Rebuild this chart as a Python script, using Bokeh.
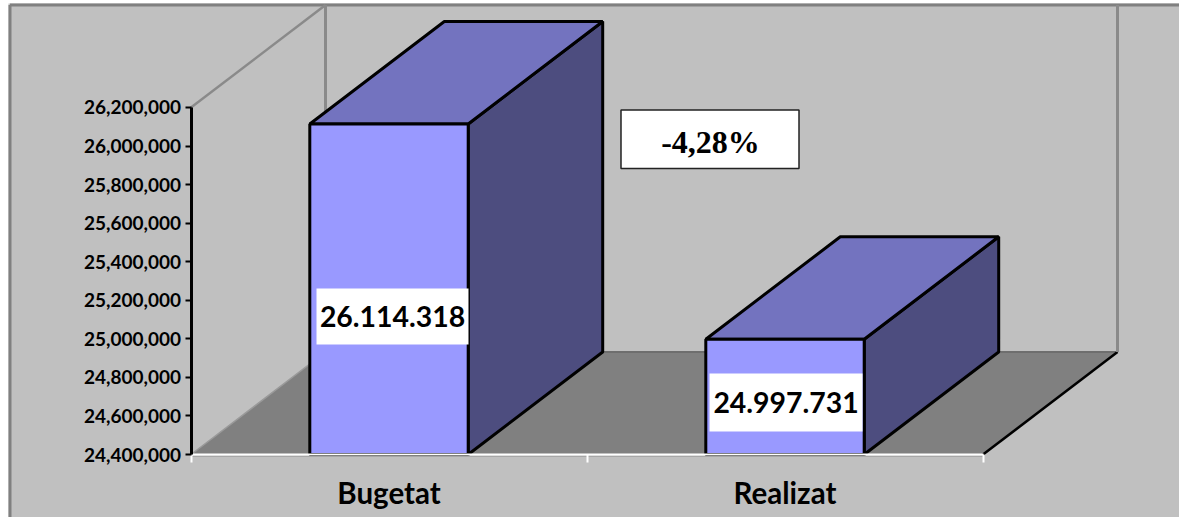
from bokeh.plotting import figure
from bokeh.embed import file_html
from bokeh.resources import INLINE
from bokeh.models import LinearAxis, FixedTicker, NumeralTickFormatter, Range1d
from bokeh.core.properties import value

categories = ["Bugetat", "Realizat"]
values = [26114318, 24997731]
value_labels = ["26.114.318", "24.997.731"]
y_ticks = [24400000, 24600000, 24800000, 25000000, 25200000, 25400000,
           25600000, 25800000, 26000000, 26200000]
change_label = "-4,28%"

W, H = 1179, 517
Y_BASE = 24400000
PX_X = 396.0          # px per category
PX_Y = 192.78 / 1e6   # px per unit value
X0_PX, Y0_PX = 190.5, 454.0


def X(px):
    return (px - X0_PX) / PX_X


def Y(py):
    return Y_BASE + (Y0_PX - py) / PX_Y


DX = 134.5 / PX_X     # 3D depth in x units
DY = 102.5 / PX_Y     # 3D depth in y units
BAR_W = 0.4
FONT = value("Lato")

p = figure(width=W, height=H, output_backend="svg", toolbar_location=None,
           x_axis_type=None, y_axis_type=None, min_border=0,
           x_range=Range1d(X(0), X(W)), y_range=Range1d(Y(H), Y(0)),
           background_fill_color="white", border_fill_color="white",
           outline_line_color=None)
p.grid.visible = False

GREY = "#C0C0C0"
WALL = "#8A8A8A"

# chart area and its border
p.quad(left=[X(8)], right=[X(W + 5)], top=[Y(3)], bottom=[Y(H + 5)],
       fill_color=GREY, line_color=None)
p.line([X(9.5), X(9.5)], [Y(H + 5), Y(4.5)], line_color="#808080", line_width=3)
p.line([X(9.5), X(W + 5)], [Y(4.5), Y(4.5)], line_color="#808080", line_width=3)

# floor
y_top = max(y_ticks)
fx = [0, DX, 2 + DX, 2]
fy = [Y_BASE, Y_BASE + DY, Y_BASE + DY, Y_BASE]
p.patch(fx, fy, fill_color="#808080", line_color=None)
p.line([DX, 2 + DX], [Y_BASE + DY, Y_BASE + DY], line_color="#6E6E6E", line_width=2)
p.line([0, DX], [Y_BASE, Y_BASE + DY], line_color="#9A9A9A", line_width=1.5)
p.line([2, 2 + DX], [Y_BASE, Y_BASE + DY], line_color="black", line_width=2.5)

# walls
p.line([0, DX], [y_top, y_top + DY], line_color=WALL, line_width=2.5)
p.line([DX, DX], [Y_BASE + DY, y_top + DY], line_color=WALL, line_width=3)
p.line([2 + DX, 2 + DX], [Y_BASE + DY, y_top + DY], line_color=WALL, line_width=3)

# bars
for i, v in enumerate(values):
    l = i + 0.5 - BAR_W / 2
    r = i + 0.5 + BAR_W / 2
    lw = 3
    p.patch([r, r + DX, r + DX, r], [Y_BASE, Y_BASE + DY, v + DY, v],
            fill_color="#4D4D7F", line_color="black", line_width=lw)
    p.patch([l, r, r + DX, l + DX], [v, v, v + DY, v + DY],
            fill_color="#7373BF", line_color="black", line_width=lw)
    p.patch([l, r, r, l], [Y_BASE, Y_BASE, v, v],
            fill_color="#9999FF", line_color="black", line_width=lw)

# data labels
label_boxes_px = [(316, 468, 288, 344), (709, 862, 373, 431)]
for (x0, x1, y0, y1), txt in zip(label_boxes_px, value_labels):
    p.quad(left=[X(x0)], right=[X(x1)], top=[Y(y0)], bottom=[Y(y1)],
           fill_color="white", line_color=None)
    p.text([X((x0 + x1) / 2)], [Y((y0 + y1) / 2)], text=[txt], text_font=FONT,
           text_font_style="bold", text_font_size="28.4px", text_color="black",
           text_align="center", text_baseline="middle")

# percentage box
p.quad(left=[X(620.5)], right=[X(798.5)], top=[Y(109.5)], bottom=[Y(168)],
       fill_color="white", line_color="#222222", line_width=1.5)
p.text([X(710)], [Y(141)], text=[change_label], text_font=value("Liberation Serif"),
       text_font_style="bold", text_font_size="32px", text_color="black",
       text_align="center", text_baseline="middle")

# faint shade under the baseline
p.line([0, 2], [Y(456), Y(456)], line_color="#A6A6A6", line_width=1)

# axes
yax = LinearAxis(fixed_location=0,
                 ticker=FixedTicker(ticks=y_ticks),
                 formatter=NumeralTickFormatter(format="0,0"),
                 bounds=(min(y_ticks), max(y_ticks)),
                 axis_line_color="black", axis_line_width=3,
                 major_tick_line_color="black", major_tick_line_width=2,
                 major_tick_in=0, major_tick_out=6,
                 minor_tick_line_color=None,
                 major_label_standoff=4,
                 major_label_text_font="Lato", major_label_text_font_style="bold",
                 major_label_text_font_size="19px", major_label_text_color="black")
p.add_layout(yax, "left")

xax = LinearAxis(fixed_location=Y_BASE,
                 ticker=FixedTicker(ticks=[0.5, 1.5], minor_ticks=[0, 1, 2]),
                 major_label_overrides={0.5: categories[0], 1.5: categories[1]},
                 bounds=(0, 2),
                 axis_line_color="white", axis_line_width=2,
                 major_tick_line_color=None,
                 minor_tick_line_color="white", minor_tick_line_width=2,
                 minor_tick_in=0, minor_tick_out=8,
                 major_label_standoff=12,
                 major_label_text_font="Lato", major_label_text_font_style="bold",
                 major_label_text_font_size="29.5px", major_label_text_color="black")
p.add_layout(xax, "below")

open("out.html", "w").write(file_html(p, INLINE))
